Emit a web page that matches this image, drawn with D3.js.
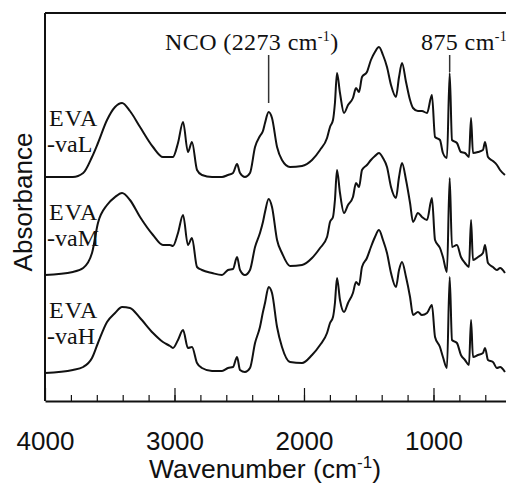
<!DOCTYPE html>
<html>
<head>
<meta charset="utf-8">
<script src="https://cdn.jsdelivr.net/npm/d3@7"></script>
<style>
  body { margin: 0; background: #fff; }
  svg { display: block; }
</style>
</head>
<body>
<div id="chart"></div>
<script>
// Wavenumber grid (cm-1), shared by the three spectra
var wavenumbers = [4000, 3785, 3705, 3637, 3591, 3521, 3459, 3405, 3344, 3266,
    3166, 3089, 3035, 3012, 2973, 2934, 2896, 2865, 2826, 2788,
    2710, 2633, 2587, 2548, 2517, 2494, 2456, 2417, 2378, 2340,
    2317, 2301, 2273, 2247, 2208, 2170, 2108, 2015, 1938, 1876,
    1822, 1799, 1776, 1761, 1745, 1722, 1691, 1660, 1622, 1598,
    1575, 1552, 1514, 1483, 1452, 1421, 1390, 1359, 1328, 1290,
    1266, 1243, 1212, 1181, 1158, 1120, 1089, 1050, 1012, 988,
    950, 927, 896, 875, 857, 819, 788, 757, 726, 710,
    695, 656, 618, 602, 579, 541, 510, 486, 448];

// Absorbance (stacked, arbitrary units)
var evaL = [2.24, 2.24, 2.28, 2.44, 2.58, 2.81, 2.94, 2.98, 2.90, 2.74,
    2.54, 2.44, 2.44, 2.44, 2.58, 2.79, 2.49, 2.59, 2.31, 2.26,
    2.24, 2.24, 2.26, 2.28, 2.37, 2.28, 2.24, 2.28, 2.54, 2.65,
    2.70, 2.78, 2.89, 2.83, 2.54, 2.41, 2.34, 2.35, 2.41, 2.51,
    2.63, 2.74, 2.81, 2.98, 3.28, 3.08, 2.88, 2.96, 3.03, 3.13,
    3.09, 3.24, 3.29, 3.41, 3.49, 3.54, 3.46, 3.34, 3.16, 3.04,
    3.24, 3.38, 3.19, 3.01, 2.93, 2.90, 2.90, 2.88, 3.06, 2.64,
    2.61, 2.48, 2.43, 3.28, 2.61, 2.58, 2.49, 2.48, 2.44, 2.83,
    2.48, 2.49, 2.51, 2.59, 2.44, 2.40, 2.36, 2.31, 2.26];

var evaM = [1.26, 1.29, 1.33, 1.48, 1.78, 1.96, 2.04, 2.08, 2.01, 1.84,
    1.66, 1.56, 1.56, 1.55, 1.68, 1.86, 1.56, 1.63, 1.34, 1.31,
    1.28, 1.26, 1.31, 1.32, 1.44, 1.31, 1.26, 1.31, 1.54, 1.68,
    1.79, 1.89, 2.02, 1.94, 1.61, 1.48, 1.35, 1.36, 1.43, 1.53,
    1.64, 1.79, 1.84, 2.01, 2.31, 2.08, 1.88, 1.96, 2.04, 2.18,
    2.14, 2.31, 2.36, 2.41, 2.45, 2.48, 2.43, 2.34, 2.14, 2.03,
    2.24, 2.38, 2.21, 1.98, 1.79, 1.88, 1.84, 1.81, 2.03, 1.61,
    1.53, 1.44, 1.29, 2.23, 1.54, 1.56, 1.44, 1.38, 1.34, 1.81,
    1.41, 1.44, 1.48, 1.56, 1.38, 1.34, 1.31, 1.33, 1.28];

var evaH = [0.28, 0.31, 0.34, 0.43, 0.58, 0.79, 0.88, 0.94, 0.93, 0.83,
    0.68, 0.59, 0.55, 0.53, 0.61, 0.71, 0.53, 0.54, 0.38, 0.33,
    0.30, 0.30, 0.33, 0.34, 0.44, 0.31, 0.29, 0.33, 0.58, 0.74,
    0.89, 0.98, 1.14, 1.08, 0.74, 0.54, 0.39, 0.38, 0.46, 0.56,
    0.68, 0.78, 0.84, 0.98, 1.23, 1.01, 0.89, 0.98, 1.08, 1.19,
    1.16, 1.34, 1.43, 1.54, 1.64, 1.71, 1.61, 1.48, 1.28, 1.14,
    1.31, 1.39, 1.24, 1.04, 0.86, 0.89, 0.86, 0.88, 0.96, 0.64,
    0.54, 0.44, 0.33, 1.24, 0.61, 0.58, 0.46, 0.41, 0.36, 0.81,
    0.44, 0.46, 0.48, 0.53, 0.41, 0.39, 0.33, 0.34, 0.29];

var sampleNames = ['-vaL', '-vaM', '-vaH'];
var majorTicks = [4000, 3000, 2000, 1000];
var minorTicks = d3.range(3800, 400, -200);

var width = 506, height = 484;
var margin = { top: 13, right: 0, bottom: 83, left: 45 };

var svg = d3.select("#chart")
    .append("svg")
    .attr("width", width)
    .attr("height", height);

var x = d3.scaleLinear().domain([4000, 440]).range([margin.left, width - margin.right]);
var y = d3.scaleLinear().domain([0, 3.88]).range([height - margin.bottom, margin.top]);

svg.append("clipPath").attr("id", "plotclip")
    .append("rect")
    .attr("x", margin.left).attr("y", margin.top)
    .attr("width", width - margin.left - margin.right)
    .attr("height", height - margin.top - margin.bottom);

// Spectra
var series = [evaL, evaM, evaH];
var line = d3.line()
    .x(function(d, i) { return x(wavenumbers[i]); })
    .y(function(d) { return y(d); })
    .curve(d3.curveMonotoneX);

svg.append("g")
    .attr("clip-path", "url(#plotclip)")
    .selectAll("path")
    .data(series)
    .enter().append("path")
    .attr("d", line)
    .style("fill", "none")
    .style("stroke", "#111")
    .style("stroke-width", 2)
    .style("stroke-linejoin", "round");

// Frame: top line and left axis
svg.append("line")
    .attr("x1", margin.left).attr("x2", width)
    .attr("y1", margin.top).attr("y2", margin.top)
    .style("stroke", "#111").style("stroke-width", 2);
svg.append("line")
    .attr("x1", margin.left).attr("x2", margin.left)
    .attr("y1", margin.top).attr("y2", height - margin.bottom)
    .style("stroke", "#111").style("stroke-width", 2);

// Bottom axis, ticks pointing inward
var axisY = height - margin.bottom;
svg.append("g")
    .attr("transform", "translate(0," + axisY + ")")
    .call(d3.axisBottom(x).tickValues(minorTicks).tickSize(-6).tickFormat("").tickSizeOuter(0))
    .call(function(g) { g.select(".domain").remove(); })
    .selectAll("line").style("stroke", "#111").style("stroke-width", 1.2);

var major = svg.append("g")
    .attr("transform", "translate(0," + axisY + ")")
    .call(d3.axisBottom(x).tickValues(majorTicks).tickSize(-13).tickSizeOuter(0).tickPadding(31).tickFormat(d3.format("d")));
major.select(".domain").style("stroke", "#111").style("stroke-width", 2);
major.selectAll(".tick line").style("stroke", "#111").style("stroke-width", 1.2);
major.selectAll(".tick text")
    .style("font-family", "'Liberation Sans', Arial, sans-serif")
    .style("font-size", "26px")
    .style("fill", "#111");

// Axis titles
var xTitle = svg.append("text")
    .attr("x", 265)
    .attr("y", 478)
    .attr("text-anchor", "middle")
    .style("font-family", "'Liberation Sans', Arial, sans-serif")
    .style("font-size", "26.5px")
    .style("fill", "#111");
xTitle.append("tspan").text("Wavenumber (cm");
xTitle.append("tspan").attr("dy", -10).style("font-size", "17px").text("-1");
xTitle.append("tspan").attr("dy", 10).text(")");

svg.append("text")
    .attr("transform", "translate(32,202) rotate(-90)")
    .attr("text-anchor", "middle")
    .style("font-family", "'Liberation Sans', Arial, sans-serif")
    .style("font-size", "26px")
    .style("fill", "#111")
    .text("Absorbance");

// Sample labels
var labelY = [126, 220, 318];
sampleNames.forEach(function(name, i) {
    var t = svg.append("text")
        .attr("x", 49)
        .attr("y", labelY[i])
        .style("font-family", "'Liberation Serif', 'Times New Roman', serif")
        .style("font-size", "24px")
        .style("fill", "#111");
    t.append("tspan").attr("x", 49).style("letter-spacing", "1px").text("EVA");
    t.append("tspan").attr("x", 47).attr("dy", 26).text(name);
});

// Peak annotations
var peaks = [
    { wn: 2273, text: "NCO (2273 cm", tail: ")", tx: 165, y1: 55, y2: 103 },
    { wn: 875, text: "875 cm", tail: "", tx: 421, y1: 55, y2: 72 }
];
peaks.forEach(function(p) {
    svg.append("line")
        .attr("x1", x(p.wn)).attr("x2", x(p.wn))
        .attr("y1", p.y1).attr("y2", p.y2)
        .style("stroke", "#333").style("stroke-width", 1.5);
    var t = svg.append("text")
        .attr("x", p.tx)
        .attr("y", 50)
        .style("font-family", "'Liberation Serif', 'Times New Roman', serif")
        .style("font-size", "24px")
        .style("letter-spacing", "0.4px")
        .style("fill", "#111");
    t.append("tspan").text(p.text);
    t.append("tspan").attr("dy", -9).style("font-size", "14px").text("-1");
    if (p.tail) t.append("tspan").attr("dy", 9).text(p.tail);
});
</script>
</body>
</html>
